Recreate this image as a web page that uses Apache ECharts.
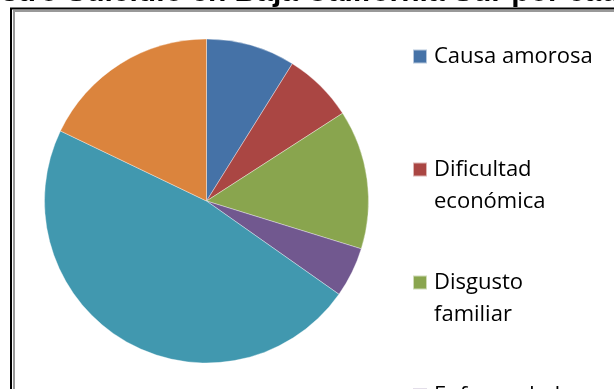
<!DOCTYPE html>
<html>
<head>
<meta charset="utf-8">
<script src="https://cdn.jsdelivr.net/npm/echarts@6/dist/echarts.min.js"></script>
<style>
  html, body { margin: 0; padding: 0; background: #fff; }
  #chart { width: 614px; height: 389px; }
</style>
</head>
<body>
<div id="chart"></div>
<script>
// datos
var titulo = 'Gráfica 2. Registro Suicidio en Baja California Sur por causa';
var causas = ['Causa amorosa', 'Dificultad económica', 'Disgusto familiar', 'Enfermedad grave', 'Se ignora', 'Otras causas'];
var etiquetas = ['Causa amorosa', 'Dificultad\neconómica', 'Disgusto\nfamiliar', 'Enfermedad\ngrave', 'Se ignora', 'Otras causas'];
var porcentajes = [8.9, 7.0, 13.9, 5.0, 47.4, 17.9];
var colores = ['#4572A7', '#AA4643', '#89A54E', '#71588F', '#4198AF', '#DB843D'];

var myChart = echarts.init(document.getElementById('chart'), null, {renderer: 'canvas'});

var datos = causas.map(function (c, i) {
    return {name: c, value: porcentajes[i], itemStyle: {color: colores[i]}};
});

option = {
    animation: false,
    backgroundColor: '#fff',
    legend: {
        orient: 'vertical',
        left: 407,
        top: 3.5,
        height: 1200,
        itemGap: 17,
        itemWidth: 14,
        itemHeight: 14,
        icon: 'rect',
        selectedMode: false,
        textStyle: {
            fontFamily: 'Open Sans',
            fontSize: 22,
            lineHeight: 32,
            padding: [0, 0, 0, 2],
            color: '#000'
        },
        // tres lineas por entrada: la del medio queda junto al cuadro
        formatter: function (name) {
            var t = etiquetas[causas.indexOf(name)];
            return t.indexOf('\n') >= 0 ? ' \n' + t : ' \n' + t + '\n ';
        },
        data: causas
    },
    graphic: [
        {
            type: 'rect', z: 1,
            shape: {x: 11, y: 8.5, width: 800, height: 600},
            style: {fill: null, stroke: '#000', lineWidth: 2}
        },
        {
            type: 'rect', z: 1,
            shape: {x: 14, y: 11, width: 800, height: 600},
            style: {fill: null, stroke: '#999', lineWidth: 2}
        },
        {
            type: 'text', z: 10,
            style: {
                text: titulo,
                x: 653,
                y: -7.5,
                align: 'right',
                verticalAlign: 'middle',
                font: 'bold 30px "Liberation Sans", Arial',
                fill: '#000'
            }
        }
    ],
    series: [
        {
            type: 'pie',
            center: [206.5, 201],
            radius: 162,
            startAngle: 90,
            clockwise: true,
            label: {show: false},
            labelLine: {show: false},
            itemStyle: {borderColor: 'rgba(255,255,255,0.6)', borderWidth: 0.6},
            emphasis: {disabled: true},
            data: datos
        }
    ]
};
myChart.setOption(option);
</script>
</body>
</html>
